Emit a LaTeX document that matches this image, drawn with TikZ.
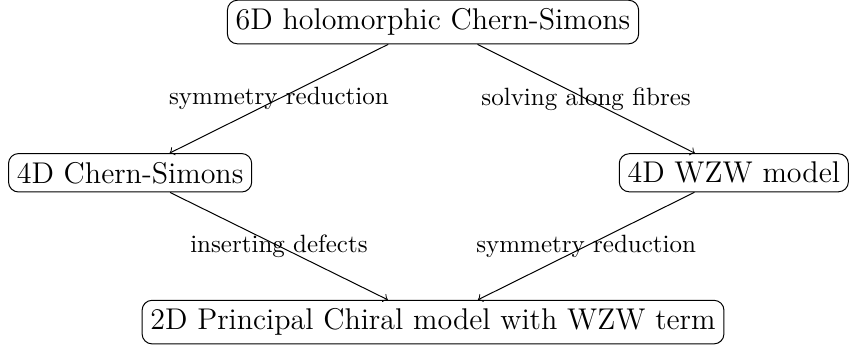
\documentclass[tikz,border=0pt]{standalone}
\tikzset{
    theorybox/.style={draw, rounded corners, font=\large},
}

\begin{document}
\begin{tikzpicture}
            \useasboundingbox (-6.09, 0.31) rectangle (5.85, -4.64);
            \node[theorybox] (sixd) at (0, 0) {6D holomorphic Chern-Simons};
            \node[theorybox] (fourcs) at (-4.26, -2.12) {4D Chern-Simons};
            \node[theorybox] (fourwzw) at (4.23, -2.12) {4D WZW model};
            \node[theorybox] (twopcm) at (0, -4.22)
                {2D Principal Chiral model with WZW term};
            \draw[->] (sixd) -- (fourcs) node[midway] {symmetry reduction};
            \draw[->] (sixd) -- (fourwzw) node[midway] {solving along fibres};
            \draw[->] (fourcs) -- (twopcm) node[midway] {inserting defects};
            \draw[->] (fourwzw) -- (twopcm) node[midway] {symmetry reduction};
        \end{tikzpicture}
\end{document}
